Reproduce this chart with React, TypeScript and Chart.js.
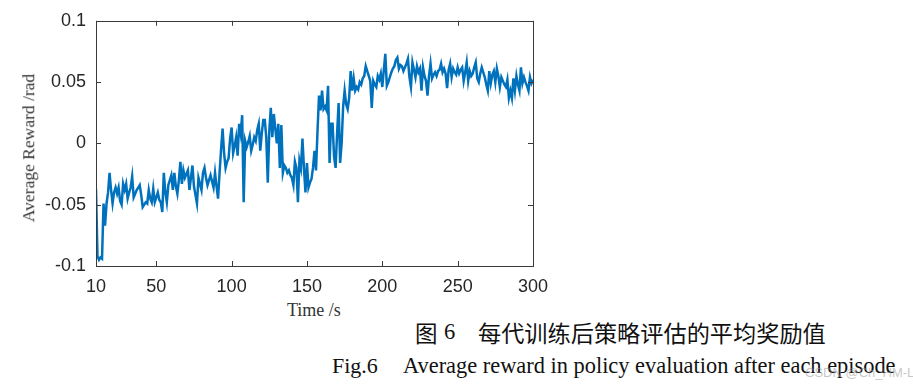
import React, { useEffect, useRef } from "react";
import { Chart, registerables } from "chart.js";

Chart.register(...registerables);

const xStart = 10;
const rewards: number[] = [
  -0.037, -0.092, -0.095, -0.093, -0.094, -0.049, -0.067, -0.049, -0.040, -0.024,
  -0.038, -0.049, -0.040, -0.036, -0.041, -0.036, -0.047, -0.050, -0.033, -0.038,
  -0.033, -0.045, -0.040, -0.036, -0.027, -0.044, -0.041, -0.038, -0.036, -0.034,
  -0.042, -0.052, -0.050, -0.048, -0.049, -0.038, -0.045, -0.048, -0.037, -0.048,
  -0.044, -0.040, -0.046, -0.048, -0.056, -0.024, -0.040, -0.048, -0.034, -0.030,
  -0.026, -0.038, -0.024, -0.035, -0.041, -0.030, -0.015, -0.033, -0.022, -0.028,
  -0.025, -0.022, -0.038, -0.028, -0.018, -0.035, -0.042, -0.049, -0.028, -0.033,
  -0.038, -0.024, -0.020, -0.028, -0.034, -0.030, -0.026, -0.031, -0.036, -0.024,
  -0.035, -0.045, -0.024, -0.005, 0.012, -0.008, -0.020, -0.015, -0.012, 0.004,
  0.013, -0.008, -0.002, 0.005, -0.010, 0.016, 0.008, 0.023, -0.048, 0.002,
  -0.003, 0.001, 0.006, -0.006, -0.001, 0.005, 0.002, 0.011, 0.016, -0.006,
  0.008, 0.019, 0.019, 0.005, -0.032, 0.010, 0.029, 0.005, 0.024, 0.012,
  0.000, 0.016, -0.020, 0.015, -0.024, -0.018, -0.020, -0.024, -0.022, -0.026,
  -0.028, -0.034, -0.015, -0.020, -0.048, -0.014, -0.020, 0.004, -0.020, -0.040,
  -0.016, -0.036, -0.032, -0.029, -0.020, -0.006, -0.022, 0.010, 0.039, 0.027,
  0.043, 0.028, 0.030, 0.027, 0.047, -0.016, 0.016, 0.016, -0.011, -0.020,
  0.008, 0.033, -0.016, 0.000, 0.030, 0.043, 0.032, 0.028, 0.037, 0.059,
  0.043, 0.053, 0.043, 0.046, 0.044, 0.050, 0.048, 0.053, 0.055, 0.063,
  0.059, 0.055, 0.051, 0.029, 0.051, 0.048, 0.046, 0.055, 0.052, 0.057,
  0.046, 0.060, 0.073, 0.047, 0.050, 0.054, 0.058, 0.061, 0.063, 0.068,
  0.070, 0.061, 0.064, 0.063, 0.059, 0.062, 0.065, 0.069, 0.054, 0.046,
  0.066, 0.060, 0.054, 0.063, 0.058, 0.061, 0.043, 0.062, 0.055, 0.051,
  0.039, 0.055, 0.065, 0.053, 0.056, 0.058, 0.055, 0.059, 0.060, 0.065,
  0.058, 0.061, 0.057, 0.045, 0.060, 0.065, 0.054, 0.061, 0.058, 0.056,
  0.062, 0.057, 0.060, 0.062, 0.051, 0.058, 0.066, 0.051, 0.059, 0.055,
  0.057, 0.062, 0.066, 0.053, 0.050, 0.057, 0.062, 0.058, 0.054, 0.048,
  0.043, 0.059, 0.049, 0.056, 0.059, 0.050, 0.061, 0.055, 0.046, 0.054,
  0.051, 0.048, 0.046, 0.052, 0.037, 0.043, 0.037, 0.053, 0.043, 0.055,
  0.048, 0.043, 0.062, 0.049, 0.054, 0.050, 0.047, 0.043, 0.054, 0.049,
  0.052,
];

const xTicks: number[] = [10, 50, 100, 150, 200, 250, 300];
const yTicks: number[] = [-0.1, -0.05, 0, 0.05, 0.1];
const yTickLabels: string[] = ["-0.1", "-0.05", "0", "0.05", "0.1"];

const xTitle = "Time /s";
const yTitle = "Average Reward /rad";
const captionCnLabel = "图";
const captionCnNum = "6";
const captionCnText = "每代训练后策略评估的平均奖励值";
const captionEnLabel = "Fig.6";
const captionEnText = "Average reward in policy evaluation after each episode";
const watermark = "CSDN @Ch_HM-L";

const frameColor = "#3a3a3a";

const framePlugin = {
  id: "matlabFrame",
  afterDraw(chart: any) {
    const { ctx, chartArea, scales } = chart;
    const { left, right, top, bottom } = chartArea;
    ctx.save();
    ctx.strokeStyle = frameColor;
    ctx.lineWidth = 1;
    ctx.strokeRect(Math.round(left) + 0.5, Math.round(top) + 0.5, Math.round(right - left), Math.round(bottom - top));
    const len = 5;
    ctx.beginPath();
    xTicks.forEach((v) => {
      const x = Math.round(scales.x.getPixelForValue(v)) + 0.5;
      ctx.moveTo(x, bottom);
      ctx.lineTo(x, bottom - len);
      ctx.moveTo(x, top);
      ctx.lineTo(x, top + len);
    });
    yTicks.forEach((v) => {
      const y = Math.round(scales.y.getPixelForValue(v)) + 0.5;
      ctx.moveTo(left, y);
      ctx.lineTo(left + len, y);
      ctx.moveTo(right, y);
      ctx.lineTo(right - len, y);
    });
    ctx.stroke();
    ctx.restore();
  },
};

export default function App() {
  const canvasRef = useRef<HTMLCanvasElement | null>(null);

  useEffect(() => {
    document.body.style.margin = "0";
    const canvas = canvasRef.current;
    if (!canvas) return;
    const points = rewards.map((v, i) => ({ x: xStart + i, y: v }));
    const chart = new Chart(canvas, {
      type: "line",
      data: {
        datasets: [
          {
            data: points,
            borderColor: "#0072BD",
            borderWidth: 2.5,
            pointRadius: 0,
            tension: 0,
            fill: false,
          },
        ],
      },
      options: {
        animation: false,
        responsive: false,
        maintainAspectRatio: false,
        layout: { padding: { top: 20, right: 27, left: 0, bottom: 0 } },
        plugins: { legend: { display: false }, tooltip: { enabled: false } },
        scales: {
          x: {
            type: "linear",
            min: 10,
            max: 300,
            grid: { display: false, drawTicks: false },
            border: { display: false },
            afterFit: (scale: any) => {
              scale.height = 34;
            },
            afterBuildTicks: (scale: any) => {
              scale.ticks = xTicks.map((v) => ({ value: v }));
            },
            ticks: {
              padding: 10,
              color: "#262626",
              font: { family: "'Liberation Sans', Arial, sans-serif", size: 18 },
              maxRotation: 0,
              autoSkip: false,
              callback: (v: any) => String(v),
            },
          },
          y: {
            type: "linear",
            min: -0.1,
            max: 0.1,
            grid: { display: false, drawTicks: false },
            border: { display: false },
            afterFit: (scale: any) => {
              scale.width = 96;
            },
            afterBuildTicks: (scale: any) => {
              scale.ticks = yTicks.map((v) => ({ value: v }));
            },
            ticks: {
              padding: 10,
              color: "#262626",
              font: { family: "'Liberation Sans', Arial, sans-serif", size: 18 },
              autoSkip: false,
              callback: (_v: any, i: number) => yTickLabels[i],
            },
          },
        },
      },
      plugins: [framePlugin],
    });
    return () => chart.destroy();
  }, []);

  const serif = "'Liberation Serif', 'Times New Roman', serif";
  const cjk = "'Noto Sans CJK SC', sans-serif";
  const base: React.CSSProperties = { position: "absolute", whiteSpace: "nowrap", lineHeight: 1 };

  return (
    <div style={{ position: "relative", width: 913, height: 386, background: "#fff", overflow: "hidden" }}>
      <canvas ref={canvasRef} width={560} height={300} style={{ position: "absolute", left: 0, top: 0, width: 560, height: 300 }} />
      <div style={{ ...base, left: 29, top: 148, transform: "translate(-50%, -50%) rotate(-90deg)", fontFamily: serif, fontSize: 17.5, color: "#333" }}>
        {yTitle}
      </div>
      <div style={{ ...base, left: 287, top: 301, fontFamily: serif, fontSize: 18, color: "#333" }}>{xTitle}</div>
      <div style={{ ...base, left: 415, top: 321, fontFamily: cjk, fontSize: 22.5, color: "#111" }}>{captionCnLabel}</div>
      <div style={{ ...base, left: 444, top: 321, fontFamily: serif, fontSize: 22.5, color: "#111" }}>{captionCnNum}</div>
      <div style={{ ...base, left: 478, top: 321, fontFamily: cjk, fontSize: 23.2, color: "#111" }}>{captionCnText}</div>
      <div style={{ ...base, left: 332, top: 355, fontFamily: serif, fontSize: 22, color: "#111" }}>{captionEnLabel}</div>
      <div style={{ ...base, left: 403, top: 355, fontFamily: serif, fontSize: 22.4, color: "#111" }}>{captionEnText}</div>
      <div style={{ ...base, left: 805, top: 366, fontFamily: "'Liberation Sans', sans-serif", fontSize: 13, color: "rgba(150,150,150,0.55)" }}>
        {watermark}
      </div>
    </div>
  );
}
